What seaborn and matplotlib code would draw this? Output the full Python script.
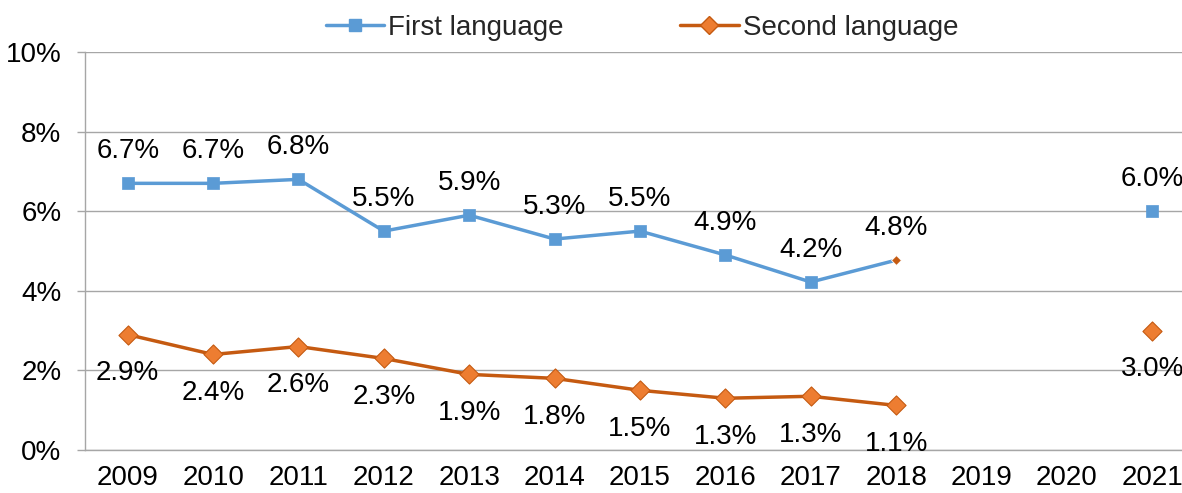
import numpy as np
import pandas as pd
import matplotlib
matplotlib.use("Agg")
import matplotlib.pyplot as plt
import seaborn as sns
from matplotlib.lines import Line2D
from matplotlib.ticker import FuncFormatter, MultipleLocator

sns.set_theme(style="white")
plt.rcParams['font.family'] = ['Liberation Sans', 'DejaVu Sans']

# Data (percent)
years = ["2009", "2010", "2011", "2012", "2013", "2014", "2015",
         "2016", "2017", "2018", "2019", "2020", "2021"]
first_lang = [6.7, 6.7, 6.8, 5.5, 5.9, 5.3, 5.5, 4.9, 4.22, 4.77, np.nan, np.nan, 6.0]
second_lang = [2.9, 2.4, 2.6, 2.3, 1.9, 1.8, 1.5, 1.3, 1.35, 1.12, np.nan, np.nan, 3.0]
first_labels = ["6.7%", "6.7%", "6.8%", "5.5%", "5.9%", "5.3%", "5.5%",
                "4.9%", "4.2%", "4.8%", "", "", "6.0%"]
second_labels = ["2.9%", "2.4%", "2.6%", "2.3%", "1.9%", "1.8%", "1.5%",
                 "1.3%", "1.3%", "1.1%", "", "", "3.0%"]

BLUE = "#5B9BD5"
ORANGE = "#ED7D31"
DARK_ORANGE = "#C55A11"
GRID = "#A6A6A6"
FS = 20

pos = np.arange(len(years))
# segment ids so that 2018 -> 2021 is not joined
segment = [0] * 10 + [1] * 3

df = pd.DataFrame({
    "pos": np.concatenate([pos, pos]),
    "value": first_lang + second_lang,
    "series": ["First language"] * len(years) + ["Second language"] * len(years),
    "segment": segment + segment,
}).dropna()

fig = plt.figure(figsize=(11.82, 4.93), dpi=100)
ax = fig.add_axes([85 / 1182, 43 / 493, 1110 / 1182, 398 / 493])

sns.lineplot(data=df, x="pos", y="value", hue="series", units="segment",
             estimator=None, palette={"First language": BLUE, "Second language": DARK_ORANGE},
             linewidth=2.5, legend=False, ax=ax, zorder=3)

# markers
fl = df[df.series == "First language"]
fl_sq = fl[fl.pos != 9]
fl_odd = fl[fl.pos == 9]
sns.scatterplot(x=fl_sq.pos, y=fl_sq.value, marker="s", s=64, color=BLUE,
                edgecolor=BLUE, linewidth=0.5, ax=ax, zorder=4)
sns.scatterplot(x=fl_odd.pos, y=fl_odd.value, marker="D", s=25, color=DARK_ORANGE,
                edgecolor="white", linewidth=0.6, ax=ax, zorder=4)
sl = df[df.series == "Second language"]
sns.scatterplot(x=sl.pos, y=sl.value, marker="D", s=95, color=ORANGE,
                edgecolor=DARK_ORANGE, linewidth=0.8, ax=ax, zorder=4)

# data labels
for i in range(len(years)):
    if not np.isnan(first_lang[i]):
        ax.annotate(first_labels[i], (pos[i], first_lang[i]), xytext=(0, 23),
                    textcoords="offset points", ha="center", va="center",
                    fontsize=FS, color="black", zorder=5)
    if not np.isnan(second_lang[i]):
        ax.annotate(second_labels[i], (pos[i], second_lang[i]), xytext=(0, -28),
                    textcoords="offset points", ha="center", va="center",
                    fontsize=FS, color="black", zorder=5)

ax.set_xlim(-0.5, len(years) - 0.5)
ax.set_ylim(0, 10)
ax.yaxis.set_major_locator(MultipleLocator(2))
ax.yaxis.set_major_formatter(FuncFormatter(lambda v, p: f"{v:.0f}%"))
ax.set_xticks(pos)
ax.set_xticklabels(years)
ax.set_xticks(np.arange(-0.5, len(years)), minor=True)
ax.tick_params(axis="x", which="major", length=0, labelsize=FS, pad=11, colors="black")
ax.tick_params(axis="x", which="minor", length=6, width=1, color=GRID, direction="out")
ax.tick_params(axis="y", which="major", length=6, width=1, color=GRID, labelsize=FS,
               pad=11, left=True, labelcolor="black")
ax.grid(axis="y", color=GRID, linewidth=1)
ax.grid(axis="x", visible=False)
ax.set_xlabel("")
ax.set_ylabel("")
for side in ["top", "right"]:
    ax.spines[side].set_visible(False)
for side in ["left", "bottom"]:
    ax.spines[side].set_color(GRID)
    ax.spines[side].set_linewidth(1)

handles = [
    Line2D([], [], color=BLUE, lw=2.5, marker="s", markersize=8, markerfacecolor=BLUE,
           markeredgecolor=BLUE),
    Line2D([], [], color=DARK_ORANGE, lw=2.5, marker="D", markersize=9,
           markerfacecolor=ORANGE, markeredgecolor=DARK_ORANGE),
]
fig.legend(handles, ["First language", "Second language"], loc="center",
           bbox_to_anchor=(642 / 1182, 1 - 28 / 493), ncol=2, frameon=False,
           fontsize=FS, handlelength=2.1, handletextpad=0.15, columnspacing=4.2)

fig.savefig("out.png", dpi=100)
